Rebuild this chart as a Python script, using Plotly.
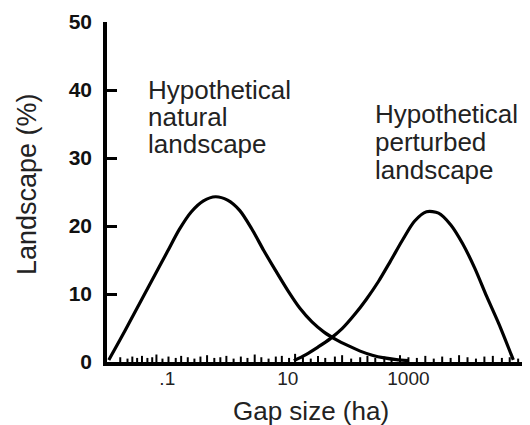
import plotly.graph_objects as go

# Natural landscape curve: (log10 gap size in ha, % of landscape)
natural_logx = [-1.97, -1.8, -1.6, -1.4, -1.2, -1.0, -0.8, -0.6, -0.4, -0.2, 0.0, 0.2,
                0.4, 0.6, 0.8, 1.0, 1.2, 1.4, 1.6, 1.8, 2.0, 2.2, 2.4, 2.6, 2.8, 3.0]
natural_y = [0.3, 3.0, 6.3, 9.6, 12.9, 16.2, 19.5, 22.1, 23.7, 24.3, 23.8, 22.3,
             19.6, 16.4, 13.4, 10.5, 7.9, 5.9, 4.4, 3.3, 2.4, 1.6, 1.0, 0.6, 0.35, 0.2]

# Perturbed landscape curve
perturbed_logx = [1.1, 1.3, 1.5, 1.7, 1.9, 2.1, 2.3, 2.5, 2.7, 2.9, 3.1, 3.3, 3.5,
                  3.7, 3.9, 4.1, 4.3, 4.5, 4.7, 4.74]
perturbed_y = [0.2, 1.1, 2.2, 3.4, 4.9, 6.9, 9.2, 11.8, 14.8, 17.9, 20.7, 22.1, 21.9,
               20.2, 17.4, 13.8, 9.6, 5.6, 1.2, 0.3]

# Irregular baseline tick marks (log10 gap size, height in %)
rug_logx = [-1.78, -1.66, -1.58, -1.5, -1.42, -1.33, -1.25, -1.18, -1.08, -0.98, -0.86, -0.77,
            -0.66, -0.55, -0.45, -0.34, -0.22, -0.12, -0.02, 0.1, 0.22, 0.33, 0.45, 0.56,
            0.68, 0.8, 0.9, 1.02, 1.12, 1.25, 1.38, 1.5, 1.62, 1.78, 1.9, 2.05, 2.2, 2.32,
            2.45, 2.6, 2.72, 2.86, 3.0, 3.14, 3.28, 3.42, 3.56, 3.7, 3.84, 3.98, 4.12,
            4.26, 4.4, 4.55, 4.68, 4.82, 4.94]
rug_h = [0.7, 0.5, 0.8, 0.6, 0.9, 0.6, 0.7, 1.1, 0.5, 0.8, 0.6, 0.9, 0.7, 0.5, 0.8, 1.0,
         0.6, 0.7, 0.9, 0.5, 0.8, 0.6, 1.1, 0.7, 0.5, 0.8, 0.9, 0.6, 1.2, 0.7, 0.5, 0.9,
         0.6, 0.8, 1.0, 0.5, 0.7, 0.9, 0.6, 0.8, 0.5, 1.0, 0.7, 0.6, 0.9, 0.5, 0.8, 0.6,
         1.0, 0.7, 0.5, 0.8, 0.9, 0.6, 0.7, 0.5, 0.8]

x_tickvals = [0.1, 10, 1000]
x_ticktext = [".1", "10", "1000"]
y_tickvals = [0, 10, 20, 30, 40, 50]

natural_x = [10 ** v for v in natural_logx]
perturbed_x = [10 ** v for v in perturbed_logx]

rx, ry = [], []
for lx, h in zip(rug_logx, rug_h):
    rx += [10 ** lx, 10 ** lx, None]
    ry += [0, h, None]

fig = go.Figure()
fig.add_trace(go.Scatter(x=rx, y=ry, mode="lines",
                         line=dict(color="black", width=2), hoverinfo="skip"))
fig.add_trace(go.Scatter(x=natural_x, y=natural_y, mode="lines",
                         line=dict(color="black", width=3.2, shape="spline", smoothing=0.8)))
fig.add_trace(go.Scatter(x=perturbed_x, y=perturbed_y, mode="lines",
                         line=dict(color="black", width=3.2, shape="spline", smoothing=0.8)))

FONT = "Liberation Sans, Arial, sans-serif"

# page body has an 8px margin, so figure coords = window coords - 8
OFF = 8
L, T, PW, PH = 107 - OFF, 22 - OFF, 422, 340
W, H = 530 - OFF, 425 - OFF

fig.update_layout(
    width=W, height=H,
    margin=dict(l=L, r=W - L - PW, t=T, b=H - T - PH, autoexpand=False),
    paper_bgcolor="white", plot_bgcolor="white",
    showlegend=False,
    font=dict(family=FONT, color="#222"),
    xaxis=dict(type="log", range=[-2, 5], showgrid=False, zeroline=False,
               showline=True, linecolor="black", linewidth=4,
               tickvals=x_tickvals, ticktext=x_ticktext, ticks="",
               tickfont=dict(size=19, color="#222", family=FONT),
               ticklabelstandoff=-4),
    yaxis=dict(range=[0, 50], showgrid=False, zeroline=False,
               showline=True, linecolor="black", linewidth=3.5,
               tickvals=y_tickvals, ticks="inside", ticklen=10, tickwidth=3,
               tickcolor="black",
               tickfont=dict(size=21, color="#111", family=FONT, weight="bold"),
               ticklabelstandoff=7),
)

def px2paper_x(px):
    return (px - 107) / float(PW)

def px2paper_y(py):
    return (362 - py) / float(PH)

ann = []
for txt, py in [("Hypothetical", 90), ("natural", 117), ("landscape", 144)]:
    ann.append(dict(text=txt, x=px2paper_x(146), y=px2paper_y(py), xref="paper", yref="paper",
                    xanchor="left", yanchor="middle", showarrow=False,
                    font=dict(size=26, color="#222", family=FONT)))
for txt, py in [("Hypothetical", 114), ("perturbed", 142), ("landscape", 170)]:
    ann.append(dict(text=txt, x=px2paper_x(373), y=px2paper_y(py), xref="paper", yref="paper",
                    xanchor="left", yanchor="middle", showarrow=False,
                    font=dict(size=26, color="#222", family=FONT)))
ann.append(dict(text="Gap size (ha)", x=px2paper_x(311), y=px2paper_y(411), xref="paper", yref="paper",
                xanchor="center", yanchor="middle", showarrow=False,
                font=dict(size=26, color="#222", family=FONT)))
ann.append(dict(text="Landscape (%)", x=px2paper_x(27), y=px2paper_y(184), xref="paper", yref="paper",
                xanchor="center", yanchor="middle", showarrow=False, textangle=-90,
                font=dict(size=27, color="#222", family=FONT)))
fig.update_layout(annotations=ann)

fig.write_html("out.html")
